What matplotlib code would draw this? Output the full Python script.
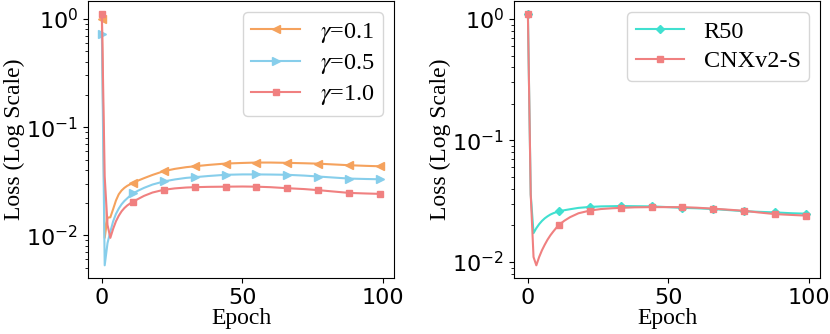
import matplotlib
matplotlib.use("Agg")
import matplotlib.pyplot as plt
from matplotlib.font_manager import FontProperties

# ---- data (loss per epoch, log scale) ----
epochs = [0, 1, 2, 3, 4, 5, 6, 7, 8, 9, 10, 11, 13, 15, 18, 22, 26, 30, 33,
          38, 44, 50, 55, 60, 66, 72, 77, 82, 88, 94, 99]
marker_epochs = [0, 11, 22, 33, 44, 55, 66, 77, 88, 99]

gamma_labels = [r"$\gamma$=0.1", r"$\gamma$=0.5", r"$\gamma$=1.0"]
loss_g01 = [1.0, 0.0095, 0.0146, 0.0147, 0.0175, 0.021, 0.024, 0.026, 0.0275,
            0.0287, 0.0296, 0.0304, 0.0322, 0.0338, 0.0362, 0.0392, 0.0412,
            0.0427, 0.0435, 0.0448, 0.0461, 0.0467, 0.0471, 0.0471, 0.0468,
            0.0464, 0.046, 0.0453, 0.0445, 0.0439, 0.0435]
loss_g05 = [0.72, 0.0053, 0.0085, 0.0108, 0.0135, 0.0158, 0.0177, 0.0194,
            0.0208, 0.022, 0.0232, 0.0244, 0.026, 0.0275, 0.0295, 0.0315,
            0.0329, 0.034, 0.0345, 0.0354, 0.0363, 0.0366, 0.0366, 0.0365,
            0.0363, 0.0357, 0.035, 0.0343, 0.0335, 0.0332, 0.033]
loss_g10 = [1.11, 0.035, 0.0125, 0.0095, 0.0115, 0.0135, 0.0152, 0.0167,
            0.0179, 0.0189, 0.0197, 0.0204, 0.0218, 0.0232, 0.0249, 0.0264,
            0.0272, 0.0277, 0.0279, 0.0281, 0.0282, 0.0283, 0.0282, 0.0279,
            0.0273, 0.0268, 0.0262, 0.0255, 0.0247, 0.0244, 0.0242]

model_labels = ["R50", "CNXv2-S"]
loss_r50 = [1.1, 0.036, 0.0173, 0.019, 0.0205, 0.0218, 0.0229, 0.0238, 0.0246,
            0.0252, 0.0257, 0.0261, 0.0267, 0.0272, 0.0279, 0.0284, 0.0287,
            0.0288, 0.0289, 0.0288, 0.0287, 0.0283, 0.0279, 0.0277, 0.0273,
            0.0267, 0.0262, 0.0259, 0.0256, 0.0252, 0.025]
loss_cnx = [1.1, 0.036, 0.011, 0.0094, 0.011, 0.0125, 0.0139, 0.0153, 0.0166,
            0.0178, 0.019, 0.0202, 0.0219, 0.0234, 0.0252, 0.0265, 0.0273,
            0.0277, 0.0279, 0.0282, 0.0283, 0.0283, 0.0283, 0.028, 0.0275,
            0.0269, 0.0264, 0.0256, 0.0248, 0.0244, 0.0241]

mark_idx = [epochs.index(e) for e in marker_epochs]

SERIF = "Liberation Serif"
label_font = {"family": SERIF, "size": 17}
legend_font = FontProperties(family=SERIF, size=17.5, math_fontfamily="stix")

fig, (ax1, ax2) = plt.subplots(1, 2, figsize=(8.3, 3.34), dpi=100)
plt.subplots_adjust(left=0.106, right=0.988, bottom=0.168, top=0.996, wspace=0.392)

# left: different gamma
left_series = [
    (loss_g01, "#F5A25D", "<", 6),
    (loss_g05, "#87CEEB", ">", 6),
    (loss_g10, "#F08080", "s", 5),
]
for (vals, col, mk, ms), lab in zip(left_series, gamma_labels):
    ax1.plot(epochs, vals, color=col, marker=mk, markersize=ms, lw=1.5,
             markevery=mark_idx, label=lab)

# right: backbones
ax2.plot(epochs, loss_r50, color="#40E0D0", marker="D", markersize=4.5, lw=1.5,
         markevery=mark_idx, label=model_labels[0])
ax2.plot(epochs, loss_cnx, color="#F08080", marker="s", markersize=5, lw=1.5,
         markevery=mark_idx, label=model_labels[1])

for ax in (ax1, ax2):
    ax.set_yscale("log")
    ax.set_xticks([0, 50, 100])
    ax.tick_params(axis="both", which="major", labelsize=16)
    ax.set_xlabel("Epoch", fontdict=label_font, labelpad=0)
    ax.set_ylabel("Loss (Log Scale)", fontdict=label_font, labelpad=1)
    ax.legend(loc="upper right", prop=legend_font, handlelength=2.0,
              labelspacing=0.3, borderpad=0.35, handletextpad=0.8,
              borderaxespad=0.45)

fig.savefig("out.png", dpi=100)
